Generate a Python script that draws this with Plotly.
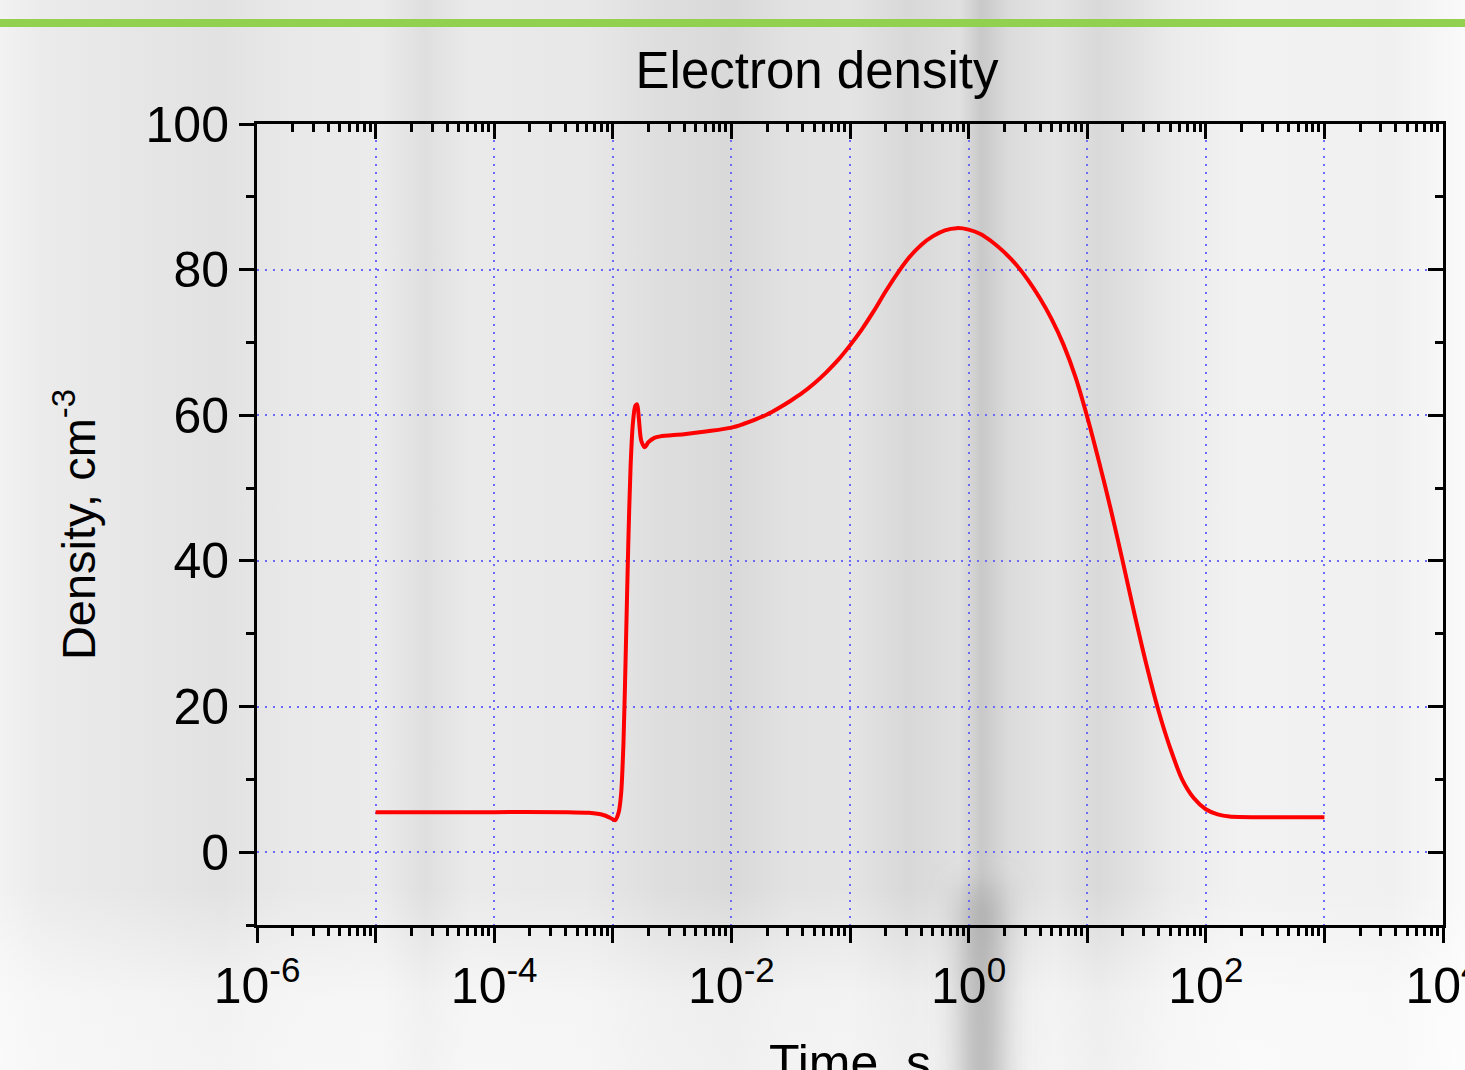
import base64
import plotly.graph_objects as go

# ---- data ----
log_time = [-5.0, -4.0, -3.4, -3.2, -3.08, -3.02, -2.98, -2.95, -2.93, -2.91, -2.89,
            -2.87, -2.85, -2.83, -2.81, -2.795, -2.78, -2.76, -2.73, -2.70, -2.65,
            -2.6, -2.4, -2.2, -2.0, -1.9, -1.8, -1.7, -1.6, -1.5, -1.4, -1.3, -1.2,
            -1.1, -1.0, -0.9, -0.8, -0.7, -0.6, -0.5, -0.4, -0.3, -0.2, -0.1, 0.0,
            0.1, 0.2, 0.3, 0.4, 0.5, 0.6, 0.7, 0.8, 0.9, 1.0, 1.1, 1.2, 1.3, 1.4,
            1.5, 1.6, 1.7, 1.8, 1.9, 2.0, 2.1, 2.2, 2.5, 3.0]
density = [5.5, 5.5, 5.5, 5.4, 5.1, 4.7, 4.4, 5.5, 8.0, 15.0, 28.0,
           42.0, 53.0, 59.0, 61.3, 61.5, 59.5, 56.5, 55.6, 56.3, 56.9,
           57.1, 57.4, 57.8, 58.3, 58.8, 59.4, 60.1, 61.0, 62.0, 63.1, 64.4, 65.9,
           67.6, 69.6, 71.8, 74.3, 77.0, 79.5, 81.7, 83.4, 84.6, 85.4, 85.7, 85.5,
           84.9, 83.8, 82.4, 80.7, 78.6, 76.1, 73.2, 69.7, 65.3, 59.8, 53.6, 47.0,
           39.9, 32.6, 25.7, 19.5, 14.3, 10.0, 7.4, 5.9, 5.2, 4.9, 4.8, 4.8]
time_s = [10 ** v for v in log_time]

x_range_log = [-6, 4]
x_decades = list(range(-6, 5))
x_tick_text = ["10<sup>%d</sup>" % d if d % 2 == 0 else "" for d in x_decades]
y_range = [-10, 100]
y_major = [0, 20, 40, 60, 80, 100]

title_text = "Electron density"
x_title = "Time, s"
y_title = "Density, cm<sup>-3</sup>"

# ---- layout geometry ----
W, H = 1465, 1070
L, R, T, B = 257, 22, 124, 145
PW, PH = W - L - R, H - T - B


def px_x(px):
    return (px - L) / PW


def px_y(py):
    return (H - B - py) / PH


FONT = "Arial, Liberation Sans, sans-serif"
GRID = "#6a6aff"

x_tickvals = [10.0 ** d for d in x_decades]
x_minor_vals = [m * 10.0 ** d for d in x_decades[:-1] for m in range(2, 10)]

# ---- soft backdrop (blurred grey streaks) as an inline SVG ----
stops = [(0.00, "#f2f2f2"), (0.03, "#ebebeb"), (0.10, "#e6e6e6"), (0.15, "#e2e2e2"),
         (0.20, "#e9e9e9"), (0.26, "#ebebeb"), (0.29, "#dfdfdf"), (0.32, "#eaeaea"),
         (0.40, "#e8e8e8"), (0.45, "#dedede"), (0.50, "#d9d9d9"), (0.54, "#e2e2e2"),
         (0.58, "#e4e4e4"), (0.62, "#d8d8d8"), (0.655, "#e0e0e0"), (0.67, "#c9c9c9"),
         (0.69, "#dcdcdc"), (0.72, "#e4e4e4"), (0.75, "#d9d9d9"), (0.80, "#ebebeb"),
         (0.85, "#f2f2f2"), (0.95, "#f0f0f0"), (0.985, "#f7f7f7"), (1.0, "#fafafa")]
stop_xml = "".join('<stop offset="%g" stop-color="%s"/>' % s for s in stops)
svg = (
    '<svg xmlns="http://www.w3.org/2000/svg" width="%d" height="%d" '
    'preserveAspectRatio="none" viewBox="0 0 %d %d">' % (W, H, W, H)
    + '<defs><linearGradient id="h" x1="0" y1="0" x2="1" y2="0">' + stop_xml
    + '</linearGradient>'
    + '<linearGradient id="v" x1="0" y1="0" x2="0" y2="1">'
      '<stop offset="0" stop-color="#fff" stop-opacity="0"/>'
      '<stop offset="0.83" stop-color="#fff" stop-opacity="0"/>'
      '<stop offset="0.93" stop-color="#fff" stop-opacity="0.55"/>'
      '<stop offset="1" stop-color="#fff" stop-opacity="0.6"/></linearGradient>'
    + '<filter id="b" x="-1" y="-1" width="3" height="3">'
      '<feGaussianBlur stdDeviation="16"/></filter>'
      '</defs>'
    + '<rect x="0" y="0" width="%d" height="%d" fill="url(#h)"/>' % (W, H)
    + '<rect x="0" y="0" width="%d" height="%d" fill="url(#v)"/>' % (W, H)
    + '<rect x="962" y="890" width="38" height="260" fill="#9a9a9a" '
      'fill-opacity="0.7" filter="url(#b)"/>'
    + '</svg>'
)
bg_src = "data:image/svg+xml;base64," + base64.b64encode(svg.encode()).decode()

fig = go.Figure()
fig.add_trace(go.Scatter(
    x=time_s, y=density, mode="lines",
    line=dict(color="#ff0000", width=4, shape="spline", smoothing=0.8),
    showlegend=False, hoverinfo="x+y",
))
# same data on the mirror axes so the top/right frame axes are drawn
fig.add_trace(go.Scatter(
    x=time_s, y=density, xaxis="x2", yaxis="y2", mode="lines",
    line=dict(width=0), opacity=0, showlegend=False, hoverinfo="skip",
))

shapes = [dict(type="rect", xref="paper", yref="paper",
               x0=px_x(0), x1=px_x(W), y0=px_y(27), y1=px_y(19),
               fillcolor="#92d050", line=dict(width=0), layer="above")]

common_x = dict(type="log", range=x_range_log, tickmode="array",
                tickvals=x_tickvals, showline=True,
                linecolor="black", linewidth=3, tickcolor="black", tickwidth=3,
                ticklen=15, zeroline=False)
common_y = dict(range=y_range, tickvals=y_major, showline=True, linecolor="black",
                linewidth=3, tickcolor="black", tickwidth=3, ticklen=15,
                zeroline=False)

fig.update_layout(
    width=W, height=H,
    margin=dict(l=L, r=R, t=T, b=B, autoexpand=False),
    paper_bgcolor="#e3e3e3",
    plot_bgcolor="rgba(0,0,0,0)",
    font=dict(family=FONT, size=48, color="black"),
    title=dict(text=title_text, x=817 / W, xref="container", xanchor="center",
               y=1 - 70 / H, yref="container", yanchor="middle",
               font=dict(family=FONT, size=51, color="black")),
    shapes=shapes,
    annotations=[dict(text=x_title, xref="paper", yref="paper",
                      x=px_x(850), y=px_y(1063), xanchor="center",
                      yanchor="middle", showarrow=False,
                      font=dict(family=FONT, size=50, color="black"))],
    images=[dict(source=bg_src, xref="paper", yref="paper",
                 x=px_x(0), y=px_y(0), sizex=W / PW, sizey=H / PH,
                 xanchor="left", yanchor="top", sizing="stretch", layer="below")],
    xaxis=dict(**common_x, ticktext=x_tick_text, ticks="outside",
               ticklabeloverflow="allow",
               showgrid=True, gridcolor=GRID, gridwidth=2, griddash="2px,6px",
               minor=dict(tickmode="array", tickvals=x_minor_vals, ticks="outside",
                          ticklen=8, tickwidth=3, tickcolor="black", showgrid=False),
               tickfont=dict(family=FONT, size=50),
               anchor="y"),
    xaxis2=dict(**common_x, ticks="inside", side="top", overlaying="x",
                anchor="y2", showticklabels=False, showgrid=False,
                minor=dict(tickmode="array", tickvals=x_minor_vals, ticks="inside",
                           ticklen=8, tickwidth=3, tickcolor="black", showgrid=False)),
    yaxis=dict(**common_y, ticks="outside",
               showgrid=True, gridcolor=GRID, gridwidth=2, griddash="2px,6px",
               minor=dict(ticks="outside", ticklen=8, tickwidth=3,
                          tickcolor="black", dtick=10, showgrid=False),
               tickfont=dict(family=FONT, size=50),
               title=dict(text=y_title, standoff=36,
                          font=dict(family=FONT, size=47)),
               anchor="x"),
    yaxis2=dict(**common_y, ticks="inside", side="right", overlaying="y",
                anchor="x2", showticklabels=False, showgrid=False,
                minor=dict(ticks="inside", ticklen=8, tickwidth=3,
                           tickcolor="black", dtick=10, showgrid=False)),
)

fig.write_html("out.html",
               config={"displayModeBar": False},
               post_script="document.body.style.margin='0';"
                           "document.body.style.overflow='hidden';")
